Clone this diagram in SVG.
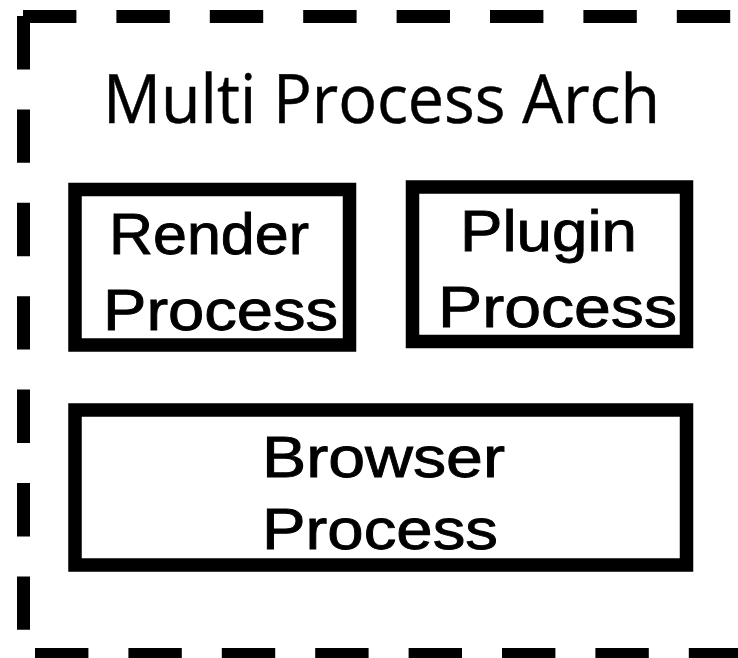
<svg xmlns="http://www.w3.org/2000/svg" width="738" height="658" viewBox="0 0 738 658">
<style>
.frame{fill:none;stroke:#000;stroke-width:13;stroke-dasharray:53.4 40}
.box{fill:#fff;stroke:#000;stroke-width:13.5}
.lbl{font-family:"Liberation Sans",Arial,sans-serif;font-size:58px;fill:#000;stroke:#000;stroke-width:0.9}
.title{font-family:"Open Sans","Noto Sans",sans-serif;font-size:67px;fill:#000;stroke:#000;stroke-width:0.5}
</style>
<rect width="738" height="658" fill="#fff"/>
<g id="frame">
<line class="frame" x1="23" y1="16.5" x2="760" y2="16.5"/>
<line class="frame" x1="23.5" y1="16" x2="23.5" y2="640"/>
<line class="frame" x1="35" y1="654.5" x2="760" y2="654.5"/>
<text class="title" x="103" y="123" textLength="557" lengthAdjust="spacingAndGlyphs">Multi Process Arch</text>
</g>
<g id="render">
<rect class="box" x="75" y="189.5" width="274.5" height="155.5"/>
<text class="lbl" x="109" y="254" textLength="200" lengthAdjust="spacingAndGlyphs">Render</text>
<text class="lbl" x="103" y="330" textLength="235" lengthAdjust="spacingAndGlyphs">Process</text>
</g>
<g id="plugin">
<rect class="box" x="412.5" y="187" width="274" height="154.5"/>
<text class="lbl" x="460" y="251" textLength="177" lengthAdjust="spacingAndGlyphs">Plugin</text>
<text class="lbl" x="438" y="327" textLength="239" lengthAdjust="spacingAndGlyphs">Process</text>
</g>
<g id="browser">
<rect class="box" x="75" y="410" width="611.5" height="155"/>
<text class="lbl" x="262" y="477" textLength="243" lengthAdjust="spacingAndGlyphs">Browser</text>
<text class="lbl" x="262" y="549" textLength="236" lengthAdjust="spacingAndGlyphs">Process</text>
</g>
<g id="connectors"/>
</svg>
